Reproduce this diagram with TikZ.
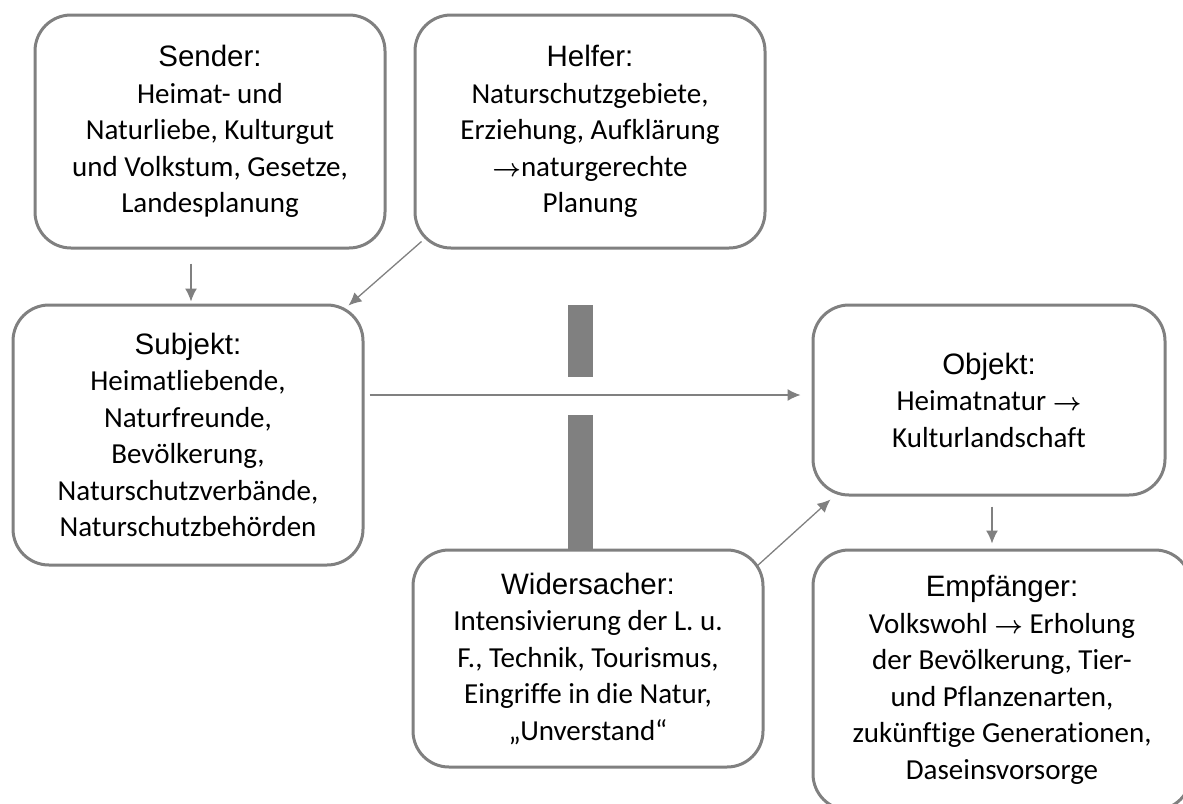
\documentclass[tikz,border=0pt]{standalone}
\usepackage{fontspec}
\setmainfont{Carlito}[Ligatures=NoCommon]
\newfontfamily\headfont{Liberation Sans}
\usetikzlibrary{arrows.meta}
\definecolor{linegray}{HTML}{808080}
\tikzset{
  >={Latex[length=13pt,width=12pt]},
  actant/.style={draw=linegray,line width=3pt,rounded corners=36pt,align=center,
    inner sep=0pt,font=\fontsize{29}{36.5}\selectfont},
  conn/.style={->,draw=linegray,line width=1.3pt},
  barpiece/.style={fill=linegray,inner sep=0pt,minimum width=25pt},
}
\newcommand{\role}[1]{{\headfont\fontsize{29.5}{36.5}\selectfont #1}}
\newcommand{\towards}{{\boldmath$\rightarrow$}}

\begin{document}
\begin{tikzpicture}[x=1pt,y=-1pt]
    \useasboundingbox (0,0) rectangle (1183,803);
    \clip (0,0) rectangle (1183,803);
    \node[barpiece,minimum height=72pt] (barup) at (580.5,341) {};
    \node[barpiece,minimum height=135pt] (bardown) at (580.5,482.5) {};
    \node[actant,minimum width=350pt,minimum height=233pt] (sender) at (210,131.5)
      {\role{Sender:}\\Heimat- und\\Naturliebe, Kulturgut\\und Volkstum, Gesetze,\\Landesplanung};
    \node[actant,minimum width=350pt,minimum height=233pt] (helfer) at (590,131.5)
      {\role{Helfer:}\\Naturschutzgebiete,\\Erziehung, Aufklärung\\\towards naturgerechte\\Planung};
    \node[actant,minimum width=350pt,minimum height=260pt] (subjekt) at (188,435)
      {\role{Subjekt:}\\Heimatliebende,\\Naturfreunde,\\Bevölkerung,\\Naturschutzverbände,\\Naturschutzbehörden};
    \node[actant,minimum width=352pt,minimum height=190pt] (objekt) at (989,400)
      {\role{Objekt:}\\Heimatnatur \towards\\Kulturlandschaft};
    \node[actant,minimum width=350pt,minimum height=217pt] (widersacher) at (588,658.5)
      {\role{Widersacher:}\\Intensivierung der L. u.\\F., Technik, Tourismus,\\Eingriffe in die Natur,\\„Unverstand“};
    \node[actant,minimum width=378pt,minimum height=260pt] (empf) at (1002,680)
      {\role{Empfänger:}\\Volkswohl \towards\ Erholung\\der Bevölkerung, Tier-\\und Pflanzenarten,\\zukünftige Generationen,\\Daseinsvorsorge};
    \draw[conn,shorten <=14pt,shorten >=2pt] ([xshift=3pt]sender.south -| subjekt.north) -- ([xshift=3pt]subjekt.north);
    \draw[conn] ([shift={(8pt,8pt)}]helfer.south west) -- ([shift={(-16pt,-2pt)}]subjekt.north east);
    \draw[conn,shorten <=5pt,shorten >=11pt] ([yshift=5pt]objekt.west -| subjekt.east) -- ([yshift=5pt]objekt.west);
    \draw[conn] ([shift={(-8pt,-18pt)}]widersacher.north east) -- ([shift={(19pt,-3pt)}]objekt.south west);
    \draw[conn,shorten <=10pt,shorten >=5pt] ([xshift=3pt]objekt.south) -- ([xshift=3pt]objekt.south |- empf.north);
  \end{tikzpicture}
\end{document}
